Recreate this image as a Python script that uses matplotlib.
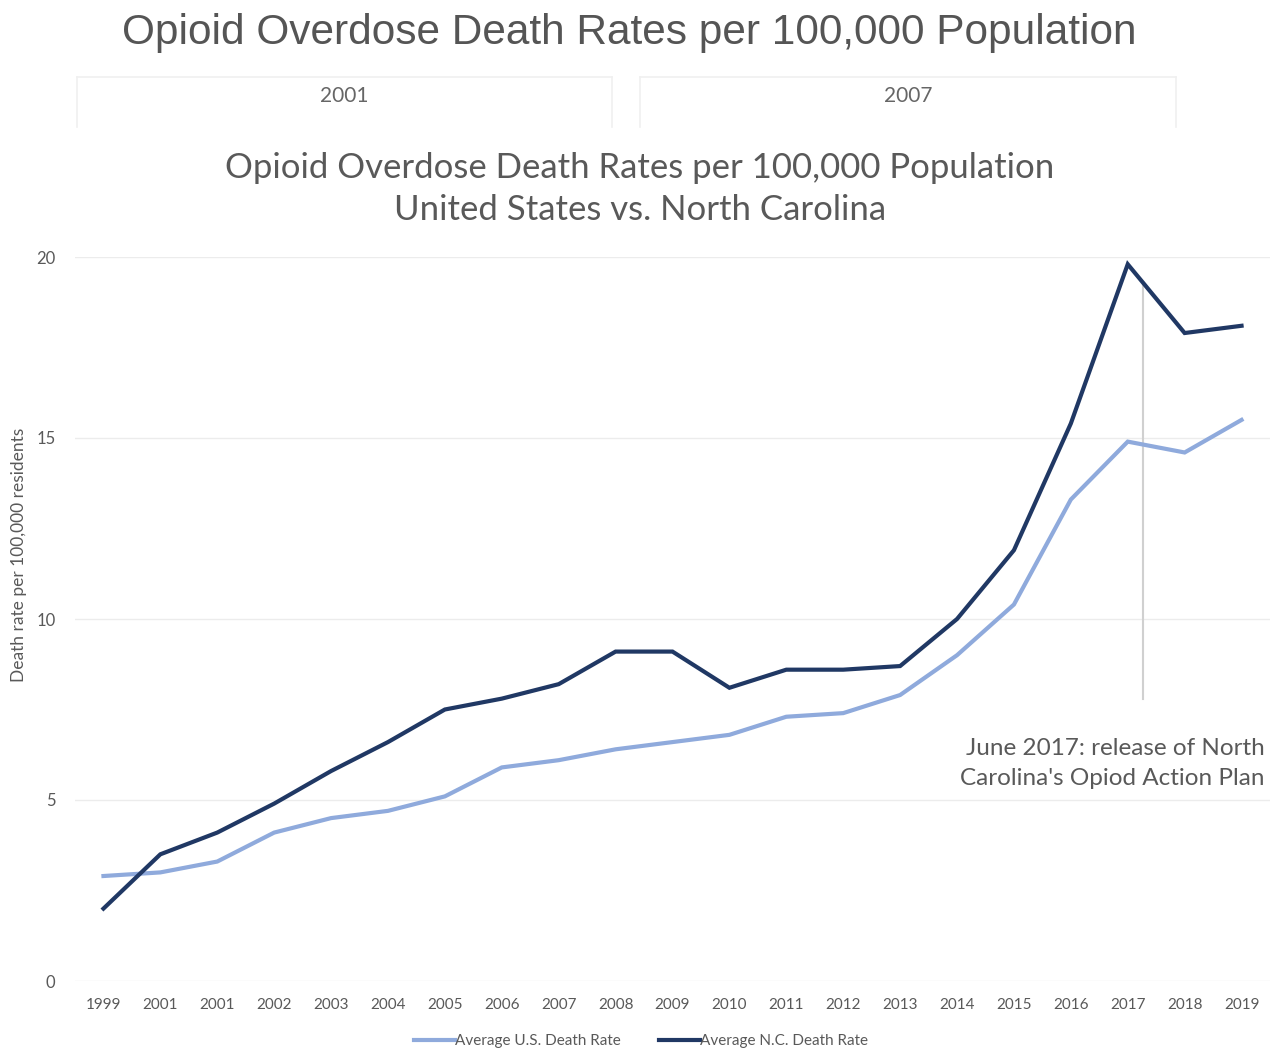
import matplotlib
matplotlib.use('Agg')
import matplotlib.pyplot as plt
from matplotlib.lines import Line2D

# Data
years = ['1999', '2001', '2001', '2002', '2003', '2004', '2005', '2006', '2007', '2008',
         '2009', '2010', '2011', '2012', '2013', '2014', '2015', '2016', '2017', '2018', '2019']
us_rate = [2.9, 3.0, 3.3, 4.1, 4.5, 4.7, 5.1, 5.9, 6.1, 6.4,
           6.6, 6.8, 7.3, 7.4, 7.9, 9.0, 10.4, 13.3, 14.9, 14.6, 15.5]
nc_rate = [2.0, 3.5, 4.1, 4.9, 5.8, 6.6, 7.5, 7.8, 8.2, 9.1,
           9.1, 8.1, 8.6, 8.6, 8.7, 10.0, 11.9, 15.4, 19.8, 17.9, 18.1]
tab_labels = ['2001', '2007']
plan_pos = 18.27  # June 2017 between the 2017 and 2018 points
plan_span = [7.8, 19.3]

US_COLOR = '#8faadc'
NC_COLOR = '#203864'
TEXT_GREY = '#595959'
body_font = ['Lato', 'DejaVu Sans']

fig = plt.figure(figsize=(12.82, 10.5), dpi=100)

# Page header
fig.text(0.491, 1 - 33 / 1050, 'Opioid Overdose Death Rates per 100,000 Population',
         ha='center', va='center', fontsize=30.5, color='#555555', family='Liberation Sans')

# Two tab boxes with the year labels
tab_boxes = [(77, 612), (640, 1176)]
for (x0, x1), lab in zip(tab_boxes, tab_labels):
    fx0, fx1 = x0 / 1282, x1 / 1282
    fy0, fy1 = 1 - 127 / 1050, 1 - 77 / 1050
    for xs, ys in [((fx0, fx0), (fy0, fy1)), ((fx0, fx1), (fy1, fy1)), ((fx1, fx1), (fy0, fy1))]:
        fig.add_artist(Line2D(xs, ys, color='#f0f0f0', lw=1.2, transform=fig.transFigure))
    fig.text((fx0 + fx1) / 2, 1 - 96 / 1050, lab, ha='center', va='center',
             fontsize=15, color='#666666', family=body_font)

# Chart title
fig.text(0.499, 1 - 189 / 1050,
         'Opioid Overdose Death Rates per 100,000 Population\nUnited States vs. North Carolina',
         ha='center', va='center', fontsize=25, color=TEXT_GREY, family=body_font,
         linespacing=1.4)

ax = fig.add_axes([75 / 1282, 1 - 981 / 1050, (1270 - 75) / 1282, (981 - 257) / 1050])
x = list(range(len(years)))

ax.plot([plan_pos, plan_pos], plan_span, color='#d0d0d0', lw=1.5, zorder=1)
ax.plot(x, us_rate, color=US_COLOR, lw=3, label='Average U.S. Death Rate',
        solid_joinstyle='miter', zorder=2)
ax.plot(x, nc_rate, color=NC_COLOR, lw=3, label='Average N.C. Death Rate',
        solid_joinstyle='miter', zorder=3)

ax.set_xlim(-0.5, len(years) - 0.5)
ax.set_ylim(0, 20)
ax.set_yticks([0, 5, 10, 15, 20])
ax.set_xticks(x)
ax.set_xticklabels(years)
ax.grid(axis='y', color='#ececec', lw=1)
ax.set_axisbelow(True)
for s in ax.spines.values():
    s.set_visible(False)
ax.tick_params(length=0, colors=TEXT_GREY, labelsize=11)
ax.tick_params(axis='y', labelsize=12, pad=14)
ax.tick_params(axis='x', pad=12)
for lab in ax.get_xticklabels() + ax.get_yticklabels():
    lab.set_family(body_font)
ax.set_ylabel('Death rate per 100,000 residents', fontsize=12.5, color=TEXT_GREY,
              family=body_font)
ax.yaxis.set_label_coords(-0.04, 0.588)

ax.text(20.4, 6.0, "June 2017: release of North\nCarolina's Opiod Action Plan",
        ha='right', va='center', fontsize=17.5, color=TEXT_GREY, family=body_font,
        linespacing=1.55)

leg = fig.legend(loc='center', bbox_to_anchor=(0.5, 1 - 1041 / 1050), ncol=2, frameon=False,
                 handlelength=2.7, handletextpad=0.0, columnspacing=2.5,
                 prop={'family': body_font, 'size': 11})
for t in leg.get_texts():
    t.set_color(TEXT_GREY)

fig.savefig('out.png', dpi=100, facecolor='white')
